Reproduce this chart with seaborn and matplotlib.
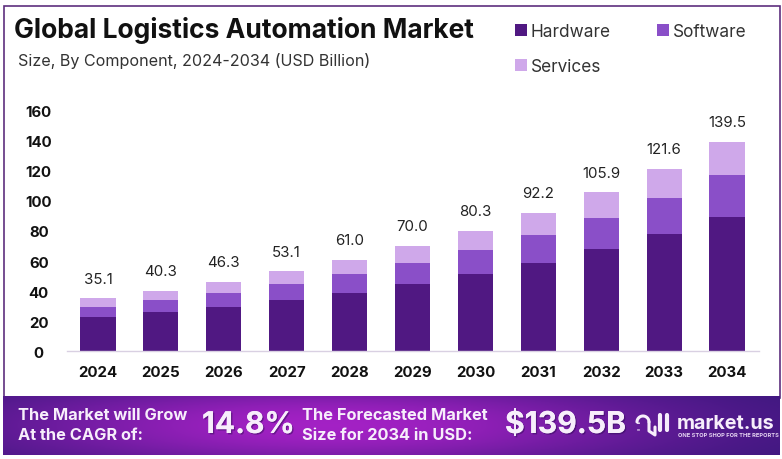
import numpy as np
import pandas as pd
import matplotlib
matplotlib.use("Agg")
import matplotlib.pyplot as plt
import matplotlib.patheffects as pe
from matplotlib.patches import Rectangle
import seaborn as sns

years = [2024, 2025, 2026, 2027, 2028, 2029, 2030, 2031, 2032, 2033, 2034]
hardware = [22.9, 26.2, 29.5, 34.2, 38.7, 44.7, 51.3, 58.7, 68.0, 78.0, 89.6]
software = [6.6, 7.8, 9.2, 10.5, 12.6, 14.0, 16.0, 18.6, 20.7, 24.0, 27.7]
services = [5.6, 6.3, 7.6, 8.4, 9.7, 11.3, 13.0, 14.9, 17.2, 19.6, 22.2]
totals = [35.1, 40.3, 46.3, 53.1, 61.0, 70.0, 80.3, 92.2, 105.9, 121.6, 139.5]
y_ticks = [0, 20, 40, 60, 80, 100, 120, 140, 160]

df = pd.DataFrame({"year": years, "Hardware": hardware, "Software": software, "Services": services})
df["hw_sw"] = df["Hardware"] + df["Software"]
df["total"] = totals

sns.set_theme(style="white")
plt.rcParams["font.family"] = ["Inter", "DejaVu Sans"]

W, H = 782, 460
fig = plt.figure(figsize=(W / 100, H / 100), dpi=100)
ax = fig.add_axes([66.5 / W, 1 - 352 / H, 692 / W, 240 / H])

# stacked look: biggest bar first, smaller ones on top
bar_kw = dict(data=df, x="year", width=0.56, saturation=1, ax=ax, linewidth=0, legend=False)
sns.barplot(y="total", color="#cfa8ea", label="Services", **bar_kw)
sns.barplot(y="hw_sw", color="#8a4fc8", label="Software", **bar_kw)
sns.barplot(y="Hardware", color="#501882", label="Hardware", **bar_kw)

handles, labels = ax.get_legend_handles_labels()

ax.bar_label(ax.containers[0], labels=[f"{v:.1f}" for v in totals], padding=9, fontsize=10.8, color="#222222")

ax.set_xlim(-0.5, 10.5)
ax.set_ylim(0, 160)
ax.set_yticks(y_ticks)
ax.set_xlabel("")
ax.set_ylabel("")
ax.tick_params(axis="x", length=0, pad=10, labelsize=10.8, labelcolor="#111111")
ax.tick_params(axis="y", length=0, pad=20, labelsize=10.8, labelcolor="#111111")
for t in ax.get_xticklabels() + ax.get_yticklabels():
    t.set_fontweight("bold")
for t in ax.get_yticklabels():
    t.set_ha("center")
sns.despine(ax=ax, left=True)
ax.spines["bottom"].set_color("#d9d0e2")
ax.spines["bottom"].set_linewidth(1)

order = [labels.index("Hardware"), labels.index("Services"), labels.index("Software")]
fig.legend([handles[i] for i in order], [labels[i] for i in order], ncol=2, frameon=False,
           loc="upper left", bbox_to_anchor=(515 / W, 1 - 24 / H), fontsize=12.4, handlelength=0.7,
           handleheight=0.7, handletextpad=0.2, columnspacing=2.72, labelspacing=1.03,
           borderpad=0, borderaxespad=0, labelcolor="#333333")

# overlay in pixel coordinates for frame, banner and headings
top = fig.add_axes([0, 0, 1, 1], zorder=5)
top.set_xlim(0, W)
top.set_ylim(H, 0)
top.axis("off")
top.patch.set_alpha(0)
top.add_patch(Rectangle((3.5, 6.5), 776, 392, fill=False, ec="#5e2f7e", lw=1.2))

top.text(14, 31, "Global Logistics Automation Market", fontsize=19, fontweight="bold", color="#111111", va="center")
top.text(18, 61, "Size, By Component, 2024-2034 (USD Billion)", fontsize=11.6, color="#333333", va="center")

# banner gradient
gx = np.linspace(0, 1, 400)
gy = np.linspace(-1, 1, 40)
xx, yy = np.meshgrid(gx, gy)
glow = np.exp(-((xx - 0.42) / 0.42) ** 2) * (1 - 0.35 * yy ** 2)
c0 = np.array([0.22, 0.09, 0.48])
c1 = np.array([0.64, 0.13, 0.77])
img = c0[None, None, :] + glow[:, :, None] * (c1 - c0)[None, None, :]
top.imshow(img, extent=(3, 780, 456, 397), aspect="auto", zorder=1)
top.set_xlim(0, W)
top.set_ylim(H, 0)

white = "#f7eefb"
shadow = [pe.withSimplePatchShadow(offset=(1, -1), alpha=0.45, shadow_rgbFace="#2a0a50"), pe.Normal()]
for x, y, s in [(18, 416, "The Market will Grow"), (18, 436, "At the CAGR of:"),
                (302, 416, "The Forecasted Market"), (302, 436, "Size for 2034 in USD:")]:
    top.text(x, y, s, fontsize=11.8, fontweight="bold", color=white, va="center", zorder=3)
top.text(202, 426, "14.8%", fontsize=21.5, fontweight="bold", color=white, va="center", zorder=3, path_effects=shadow)
top.text(505, 426, "$139.5B", fontsize=21.7, fontweight="bold", color=white, va="center", zorder=3, path_effects=shadow)

# logo
t = np.linspace(np.pi, 2 * np.pi, 30)
top.plot(643 + 6 * np.cos(t), 423 + 6 * np.sin(t), color=white, lw=2.2, solid_capstyle="round", zorder=3)
top.plot([637.5, 637.5], [423, 431], color=white, lw=2, ls=(0, (0.5, 2)), zorder=3)
top.plot([649, 649, 655, 655], [423, 432, 436, 428], color=white, lw=2.2, solid_capstyle="round", zorder=3)
top.plot([660, 660], [416, 431], color=white, lw=3, solid_capstyle="round", zorder=3)
top.plot([667, 667], [416, 431], color=white, lw=3, solid_capstyle="round", zorder=3)
top.text(677, 424, "market.us", fontsize=14.2, fontweight="bold", color=white, va="center", zorder=3)
top.text(678, 436, "ONE STOP SHOP FOR THE REPORTS", fontsize=4.1, fontweight="bold", color="#e6d4f2", va="center", zorder=3)

fig.savefig("out.png", dpi=100)
